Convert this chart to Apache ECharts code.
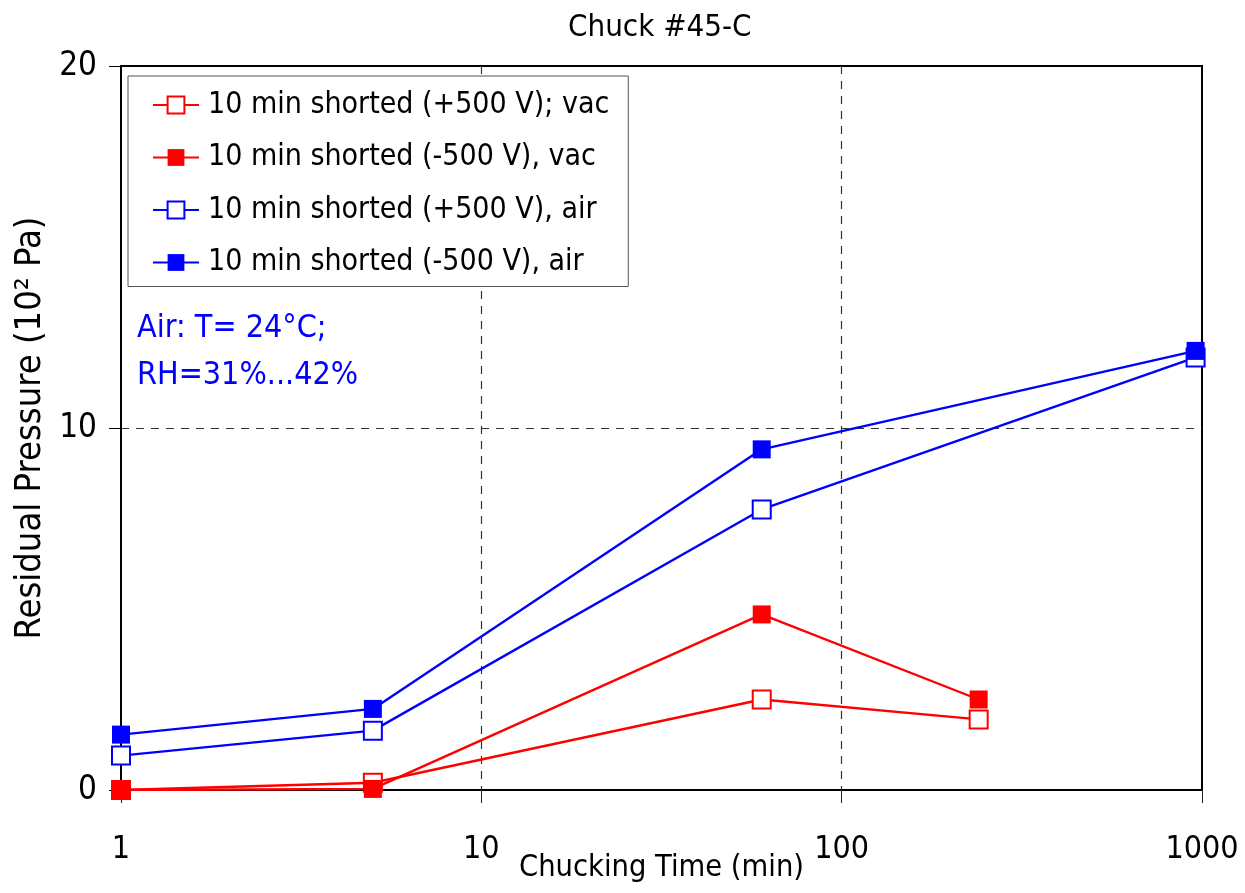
<!DOCTYPE html>
<html>
<head>
<meta charset="utf-8">
<script src="https://cdn.jsdelivr.net/npm/echarts@6/dist/echarts.min.js"></script>
<style>
  html, body { margin: 0; padding: 0; background: #fff; }
  #chart { width: 1245px; height: 893px; }
</style>
</head>
<body>
<div id="chart"></div>
<script>
// Chucking time (min) and residual pressure (10^2 Pa) for each run
const timesVac = [1, 5, 60, 240];
const timesAir = [1, 5, 60, 960];
const vacPos = [0.0, 0.2, 2.5, 1.95];
const vacNeg = [0.0, 0.03, 4.85, 2.5];
const airPos = [0.95, 1.64, 7.75, 11.95];
const airNeg = [1.53, 2.24, 9.41, 12.13];
const seriesNames = [
  '10 min shorted (+500 V); vac',
  '10 min shorted (-500 V), vac',
  '10 min shorted (+500 V), air',
  '10 min shorted (-500 V), air'
];
const yTicks = [0, 10, 20];
const xTicks = [1, 10, 100, 1000];

const FONT = "'DejaVu Sans Condensed', 'Liberation Sans Narrow', sans-serif";
const RED = '#ff0000';
const BLUE = '#0000ff';

function pairs(xs, ys) { return xs.map((x, i) => [x, ys[i]]); }

function makeSeries(name, xs, ys, color, filled) {
  return {
    name: name,
    type: 'line',
    data: pairs(xs, ys),
    symbol: 'rect',
    symbolSize: 18,
    lineStyle: { color: color, width: 2.4 },
    itemStyle: {
      color: filled ? color : '#ffffff',
      borderColor: color,
      borderWidth: filled ? 0 : 2
    },
    emphasis: { disabled: true },
    animation: false
  };
}

const chart = echarts.init(document.getElementById('chart'));
chart.setOption({
  backgroundColor: '#ffffff',
  textStyle: { fontFamily: FONT },
  title: {
    text: 'Chuck #45-C',
    left: 563,
    top: 7,
    textStyle: { fontFamily: FONT, fontSize: 31, fontWeight: 'normal', color: '#000' }
  },
  grid: {
    left: 121, right: 43, top: 66, bottom: 103,
    outerBoundsMode: 'none',
    containLabel: false,
    show: true, borderColor: '#000', borderWidth: 2, backgroundColor: 'transparent'
  },
  legend: {
    orient: 'vertical',
    left: 128, top: 76,
    padding: [11, 19, 6, 24],
    itemGap: 16.5,
    itemWidth: 46, itemHeight: 21,
    backgroundColor: '#fff',
    borderColor: '#555',
    borderWidth: 1,
    borderRadius: 0,
    selectedMode: false,
    textStyle: { fontFamily: FONT, fontSize: 30, color: '#000', lineHeight: 36, padding: [0, 0, 0, 4] },
    data: seriesNames
  },
  xAxis: {
    type: 'log',
    logBase: 10,
    min: 1, max: 1000,
    name: 'Chucking Time (min)',
    nameLocation: 'middle',
    nameGap: 63,
    nameMoveOverlap: false,
    nameTextStyle: { fontFamily: FONT, fontSize: 30.5, color: '#000' },
    axisLine: { show: true, onZero: false, lineStyle: { color: '#000', width: 2 } },
    axisTick: { show: true, length: 13, lineStyle: { color: '#222', width: 1 } },
    minorTick: { show: false },
    axisLabel: {
      fontFamily: FONT, fontSize: 32, color: '#000', margin: 44,
      formatter: v => (xTicks.indexOf(Math.round(v)) >= 0 ? String(Math.round(v)) : '')
    },
    splitLine: {
      show: true, showMinLine: false, showMaxLine: false,
      lineStyle: { color: '#333', type: [8, 7], width: 1.2 }
    }
  },
  yAxis: {
    type: 'value',
    min: 0, max: 20, interval: 10,
    name: 'Residual Pressure (10² Pa)',
    nameLocation: 'middle',
    nameGap: 72,
    nameMoveOverlap: false,
    nameTextStyle: { fontFamily: FONT, fontSize: 36, color: '#000' },
    axisLine: { show: true, lineStyle: { color: '#000', width: 2 } },
    axisTick: { show: true, length: 12, lineStyle: { color: '#000', width: 1 } },
    axisLabel: {
      fontFamily: FONT, fontSize: 33, color: '#000', margin: 24,
      formatter: v => (yTicks.indexOf(v) >= 0 ? String(v) : '')
    },
    splitLine: {
      show: true, showMinLine: false, showMaxLine: false,
      lineStyle: { color: '#333', type: [8, 7], width: 1.2 }
    }
  },
  graphic: [
    { type: 'text', left: 137, top: 313, style: { text: 'Air: T= 24°C;', fontFamily: FONT, fontSize: 32, fill: BLUE } },
    { type: 'text', left: 137, top: 360, style: { text: 'RH=31%...42%', fontFamily: FONT, fontSize: 32, fill: BLUE } }
  ],
  series: [
    makeSeries(seriesNames[0], timesVac, vacPos, RED, false),
    makeSeries(seriesNames[1], timesVac, vacNeg, RED, true),
    makeSeries(seriesNames[2], timesAir, airPos, BLUE, false),
    makeSeries(seriesNames[3], timesAir, airNeg, BLUE, true)
  ]
});
</script>
</body>
</html>
